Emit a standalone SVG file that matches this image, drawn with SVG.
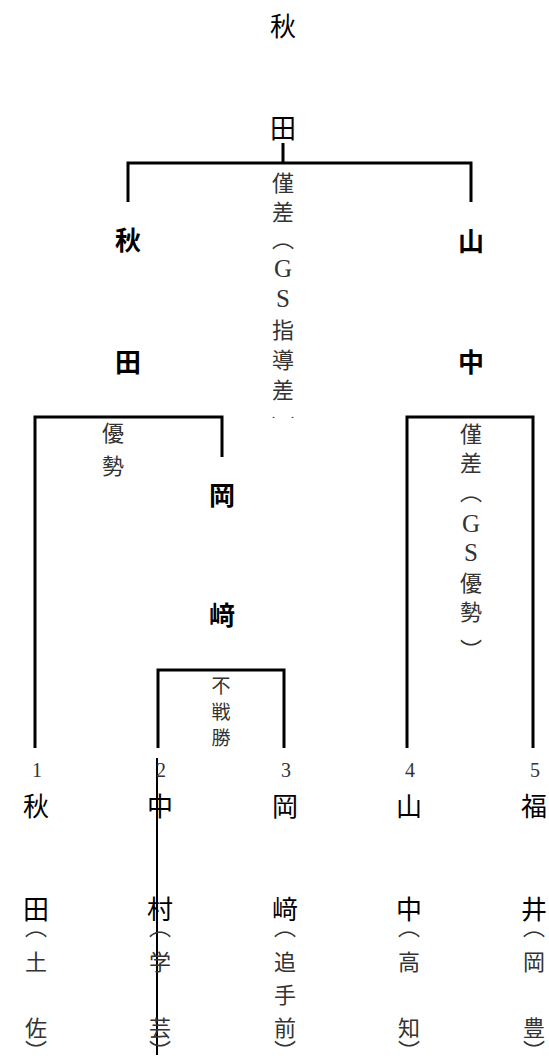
<svg xmlns="http://www.w3.org/2000/svg" width="549" height="1062" viewBox="0 0 549 1062">
<style>
.n{font-family:"Noto Sans CJK JP","Noto Sans CJK SC",sans-serif;font-size:26px;font-weight:bold;fill:#000;text-anchor:middle;dominant-baseline:central}
.c{font-family:"Noto Sans CJK JP","Noto Sans CJK SC",sans-serif;font-size:26px;font-weight:normal;fill:#000;text-anchor:middle;dominant-baseline:central}
.l{font-family:"Noto Sans CJK JP","Noto Sans CJK SC",sans-serif;font-size:22px;fill:#333;text-anchor:middle;dominant-baseline:central}
.lat{font-family:"Liberation Serif",serif;font-size:25px;fill:#333;text-anchor:middle;dominant-baseline:central}
.v{writing-mode:vertical-rl}
.sm{font-size:19px}
.num{font-family:"Liberation Serif",serif;font-size:20px;fill:#333;text-anchor:middle}
.ln{stroke:#000;stroke-width:3;fill:none}
.thin{stroke:#000;stroke-width:2;fill:none}
</style>
<defs>
<clipPath id="clipTop"><rect x="0" y="0" width="549" height="418"/></clipPath>
</defs>

<g id="connectors">
<path class="ln" d="M283 143V163M128 202V163H471V202"/>
<path class="ln" d="M35 748V417H222V457"/>
<path class="ln" d="M407 748V417H533V748"/>
<path class="ln" d="M158 748V670H284V748"/>
<path class="thin" d="M157 758V1055"/>
</g>

<g id="label-final" clip-path="url(#clipTop)">
<text class="l" x="283" y="181">僅</text>
<text class="l" x="283" y="210">差</text>
<text class="l v" x="283" y="239">（</text>
<text class="lat" x="283" y="268">G</text>
<text class="lat" x="283" y="298">S</text>
<text class="l" x="283" y="328">指</text>
<text class="l" x="283" y="358">導</text>
<text class="l" x="283" y="388">差</text>
<text class="l v" x="283" y="427">）</text>
</g>

<g id="label-sf1">
<text class="l" x="113" y="431">優</text>
<text class="l" x="113" y="464">勢</text>
</g>

<g id="label-sf2">
<text class="l" x="471" y="432">僅</text>
<text class="l" x="471" y="461">差</text>
<text class="l v" x="471" y="492">（</text>
<text class="lat" x="471" y="523">G</text>
<text class="lat" x="471" y="552">S</text>
<text class="l" x="471" y="581">優</text>
<text class="l" x="471" y="610">勢</text>
<text class="l v" x="471" y="650">）</text>
</g>

<g id="label-qf">
<text class="l sm" x="221" y="684">不</text>
<text class="l sm" x="221" y="710">戦</text>
<text class="l sm" x="221" y="736">勝</text>
</g>

<g id="node-champion">
<text class="c" x="283" y="24">秋</text>
<text class="c" x="283" y="126">田</text>
</g>
<g id="node-sf-akita">
<text class="n" x="128" y="238">秋</text>
<text class="n" x="128" y="360">田</text>
</g>
<g id="node-sf-yamanaka">
<text class="n" x="471" y="239">山</text>
<text class="n" x="471" y="360">中</text>
</g>
<g id="node-qf-okazaki">
<text class="n" x="222" y="493">岡</text>
<text class="n" x="222" y="613">﨑</text>
</g>

<g id="numbers">
<text class="num" x="37" y="777">1</text>
<text class="num" x="161" y="777">2</text>
<text class="num" x="286" y="777">3</text>
<text class="num" x="410" y="777">4</text>
<text class="num" x="535" y="777">5</text>
</g>

<g id="entry-1">
<text class="c" x="36" y="804">秋</text>
<text class="c" x="36" y="907">田</text>
<text class="l v" x="36" y="927">（</text>
<text class="l" x="36" y="960">土</text>
<text class="l" x="36" y="1026">佐</text>
<text class="l v" x="36" y="1051">）</text>
</g>
<g id="entry-2">
<text class="c" x="160" y="804">中</text>
<text class="c" x="160" y="907">村</text>
<text class="l v" x="160" y="927">（</text>
<text class="l" x="160" y="960">学</text>
<text class="l" x="160" y="1026">芸</text>
<text class="l v" x="160" y="1051">）</text>
</g>
<g id="entry-3">
<text class="c" x="285" y="804">岡</text>
<text class="c" x="285" y="907">﨑</text>
<text class="l v" x="285" y="927">（</text>
<text class="l" x="285" y="960">追</text>
<text class="l" x="285" y="993">手</text>
<text class="l" x="285" y="1026">前</text>
<text class="l v" x="285" y="1051">）</text>
</g>
<g id="entry-4">
<text class="c" x="409" y="804">山</text>
<text class="c" x="409" y="907">中</text>
<text class="l v" x="409" y="927">（</text>
<text class="l" x="409" y="960">高</text>
<text class="l" x="409" y="1026">知</text>
<text class="l v" x="409" y="1051">）</text>
</g>
<g id="entry-5">
<text class="c" x="534" y="804">福</text>
<text class="c" x="534" y="907">井</text>
<text class="l v" x="534" y="927">（</text>
<text class="l" x="534" y="960">岡</text>
<text class="l" x="534" y="1026">豊</text>
<text class="l v" x="534" y="1051">）</text>
</g>
</svg>
